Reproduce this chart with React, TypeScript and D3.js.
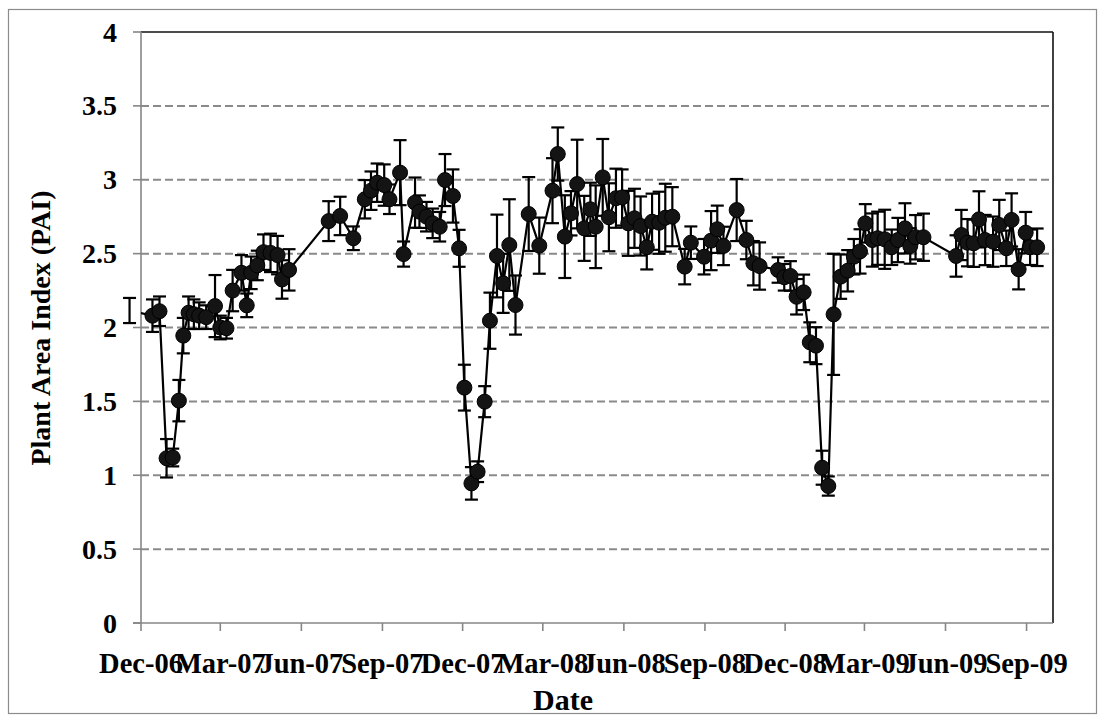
import React from "react";
import * as d3 from "d3";

// Sampling dates of the Plant Area Index series
const sampleDates = [
  "2006-11-18", "2006-12-14", "2006-12-22", "2006-12-30", "2007-01-06", "2007-01-13",
  "2007-01-18", "2007-01-24", "2007-01-30", "2007-02-05", "2007-02-13", "2007-02-23",
  "2007-03-01", "2007-03-08", "2007-03-15", "2007-03-25", "2007-03-31", "2007-04-05",
  "2007-04-12", "2007-04-19", "2007-04-27", "2007-05-05", "2007-05-10", "2007-05-18",
  "2007-07-02", "2007-07-15", "2007-07-30", "2007-08-12", "2007-08-19", "2007-08-26",
  "2007-09-03", "2007-09-09", "2007-09-21", "2007-09-25", "2007-10-08", "2007-10-13",
  "2007-10-21", "2007-10-28", "2007-11-05", "2007-11-11", "2007-11-20", "2007-11-27",
  "2007-12-03", "2007-12-11", "2007-12-18", "2007-12-26", "2008-01-01", "2008-01-09",
  "2008-01-16", "2008-01-23", "2008-01-30", "2008-02-14", "2008-02-26", "2008-03-12",
  "2008-03-18", "2008-03-26", "2008-04-02", "2008-04-09", "2008-04-17", "2008-04-24",
  "2008-04-30", "2008-05-08", "2008-05-15", "2008-05-23", "2008-05-30", "2008-06-06",
  "2008-06-13", "2008-06-20", "2008-06-27", "2008-07-03", "2008-07-11", "2008-07-18",
  "2008-07-26", "2008-08-09", "2008-08-16", "2008-08-31", "2008-09-08", "2008-09-15",
  "2008-09-22", "2008-10-07", "2008-10-18", "2008-10-26", "2008-11-02", "2008-11-23",
  "2008-11-30", "2008-12-07", "2008-12-14", "2008-12-22", "2008-12-29", "2009-01-05",
  "2009-01-12", "2009-01-19", "2009-01-25", "2009-02-02", "2009-02-10", "2009-02-17",
  "2009-02-24", "2009-03-02", "2009-03-10", "2009-03-16", "2009-03-24", "2009-04-01",
  "2009-04-08", "2009-04-16", "2009-04-22", "2009-04-28", "2009-05-07", "2009-06-13",
  "2009-06-19", "2009-06-26", "2009-07-03", "2009-07-09", "2009-07-16", "2009-07-25",
  "2009-08-01", "2009-08-09", "2009-08-15", "2009-08-23", "2009-08-31", "2009-09-05",
  "2009-09-13",
];

// Mean PAI per date
const paiValues = [
  2.115, 2.08, 2.11, 1.115, 1.12, 1.505,
  1.945, 2.1, 2.09, 2.08, 2.07, 2.145,
  2.0, 1.995, 2.25, 2.37, 2.15, 2.37,
  2.42, 2.51, 2.505, 2.49, 2.325, 2.39,
  2.72, 2.755, 2.604, 2.868, 2.926, 2.98,
  2.964, 2.868, 3.048, 2.497, 2.845, 2.784,
  2.75, 2.705, 2.682, 2.998, 2.89, 2.536,
  1.593, 0.945, 1.024, 1.498, 2.046, 2.484,
  2.299, 2.558, 2.152, 2.768, 2.554, 2.926,
  3.174, 2.615, 2.773, 2.971, 2.671, 2.8,
  2.682, 3.016, 2.746, 2.875, 2.88, 2.705,
  2.739, 2.687, 2.543, 2.716, 2.709, 2.743,
  2.75, 2.412, 2.574, 2.479, 2.588, 2.665,
  2.552, 2.795, 2.592, 2.435, 2.416, 2.389,
  2.34, 2.349, 2.208, 2.238, 1.9, 1.877,
  1.051, 0.927, 2.089, 2.344, 2.384, 2.479,
  2.515, 2.705, 2.592, 2.604, 2.597, 2.543,
  2.592, 2.671, 2.552, 2.611, 2.611, 2.484,
  2.626, 2.574, 2.57, 2.732, 2.592, 2.581,
  2.694, 2.536, 2.728, 2.394, 2.642, 2.543,
  2.543,
];

// Standard error of PAI per date
const paiErrors = [
  0.085, 0.11, 0.1, 0.13, 0.06, 0.14,
  0.12, 0.11, 0.1, 0.09, 0.08, 0.21,
  0.08, 0.07, 0.14, 0.12, 0.08, 0.11,
  0.1, 0.12, 0.13, 0.13, 0.13, 0.14,
  0.135, 0.13, 0.08, 0.13, 0.13, 0.13,
  0.14, 0.1, 0.22, 0.085, 0.17, 0.11,
  0.1, 0.1, 0.1, 0.176, 0.18, 0.125,
  0.155, 0.11, 0.07, 0.105, 0.19, 0.28,
  0.2, 0.31, 0.2, 0.25, 0.19, 0.22,
  0.18, 0.28, 0.15, 0.3, 0.22, 0.18,
  0.28, 0.26, 0.23, 0.2, 0.19, 0.22,
  0.2, 0.2, 0.15, 0.19, 0.21, 0.23,
  0.2, 0.12, 0.11, 0.12, 0.2, 0.16,
  0.13, 0.21, 0.13, 0.15, 0.16, 0.086,
  0.09, 0.1, 0.12, 0.12, 0.135, 0.125,
  0.115, 0.065, 0.41, 0.15, 0.14, 0.12,
  0.15, 0.13, 0.18, 0.18, 0.2, 0.12,
  0.15, 0.17, 0.12, 0.15, 0.16, 0.14,
  0.17, 0.16, 0.16, 0.19, 0.17, 0.17,
  0.17, 0.12, 0.18, 0.136, 0.14, 0.12,
  0.127,
];

const yTickValues = [0, 0.5, 1, 1.5, 2, 2.5, 3, 3.5, 4];
const xDomain = ["2006-12-01", "2009-10-01"];
const yTitle = "Plant Area Index (PAI)";
const xTitle = "Date";

const W = 1105;
const H = 722;
const plot = { left: 141, right: 1053, top: 32, bottom: 623 };
const FONT = "'Liberation Serif', 'Times New Roman', serif";

export default function App() {
  const parse = d3.timeParse("%Y-%m-%d");
  const fmt = d3.timeFormat("%b-%y");

  const x = d3
    .scaleTime()
    .domain(xDomain.map((s) => parse(s) as Date))
    .range([plot.left, plot.right]);
  const y = d3.scaleLinear().domain([0, 4]).range([plot.bottom, plot.top]);

  const points = sampleDates.map((s, i) => ({
    date: parse(s) as Date,
    v: paiValues[i],
    e: paiErrors[i],
  }));

  // quarterly ticks: Dec, Mar, Jun, Sep
  const xTicks = d3.timeMonth.range(x.domain()[0], new Date(2009, 8, 2), 3);

  const line = d3
    .line<{ date: Date; v: number }>()
    .x((d) => x(d.date))
    .y((d) => y(d.v));

  const capHalf = 6.5;

  return (
    <svg
      width={W}
      height={H}
      style={{ position: "absolute", left: 0, top: 0, background: "#fff" }}
      fontFamily={FONT}
    >
      <defs>
        <clipPath id="plotClip">
          <rect
            x={plot.left}
            y={plot.top - 10}
            width={plot.right - plot.left}
            height={plot.bottom - plot.top + 10}
          />
        </clipPath>
      </defs>
      <rect x={0} y={0} width={W} height={H} fill="#fff" />
      {/* chart frame */}
      <rect x={8.5} y={9.5} width={1088} height={704} fill="none" stroke="#8c8c8c" strokeWidth={1.2} />

      {/* horizontal gridlines */}
      {yTickValues
        .filter((t) => t > 0 && t < 4)
        .map((t) => (
          <line
            key={"g" + t}
            x1={plot.left}
            x2={plot.right}
            y1={y(t)}
            y2={y(t)}
            stroke="#8a8a8a"
            strokeWidth={2}
            strokeDasharray="8 4"
          />
        ))}

      {/* plot border: top and right */}
      <line x1={plot.left} x2={plot.right} y1={y(4)} y2={y(4)} stroke="#111" strokeWidth={1.6} />
      <line x1={plot.right} x2={plot.right} y1={plot.top} y2={plot.bottom} stroke="#111" strokeWidth={1.6} />

      {/* axes */}
      <line x1={plot.left} x2={plot.left} y1={plot.top} y2={plot.bottom} stroke="#868686" strokeWidth={1.6} />
      <line x1={plot.left - 8} x2={plot.right} y1={plot.bottom} y2={plot.bottom} stroke="#868686" strokeWidth={1.6} />

      {yTickValues.map((t) => (
        <g key={"yt" + t}>
          <line x1={plot.left - 8} x2={plot.left} y1={y(t)} y2={y(t)} stroke="#868686" strokeWidth={1.6} />
          <text
            x={117}
            y={y(t) + 9.5}
            textAnchor="end"
            fontSize={28}
            fontWeight="bold"
            fill="#000"
          >
            {String(t)}
          </text>
        </g>
      ))}

      {xTicks.map((d) => (
        <g key={"xt" + d.getTime()}>
          <line x1={x(d)} x2={x(d)} y1={plot.bottom} y2={plot.bottom + 8} stroke="#868686" strokeWidth={1.6} />
          <text
            x={x(d)}
            y={673}
            textAnchor="middle"
            fontSize={28.5}
            fontWeight="bold"
            fill="#000"
          >
            {fmt(d)}
          </text>
        </g>
      ))}

      {/* axis titles */}
      <text x={563} y={710} textAnchor="middle" fontSize={30} fontWeight="bold" fill="#000">
        {xTitle}
      </text>
      <text
        transform={`translate(50, 328) rotate(-90)`}
        textAnchor="middle"
        fontSize={28}
        fontWeight="bold"
        fill="#000"
      >
        {yTitle}
      </text>

      {/* error bars */}
      <g stroke="#000" strokeWidth={2.2}>
        {points.map((p, i) => {
          const cx = x(p.date);
          const y1 = y(p.v + p.e);
          const y2 = y(p.v - p.e);
          return (
            <g key={"e" + i}>
              <line x1={cx} x2={cx} y1={y1} y2={y2} />
              <line x1={cx - capHalf} x2={cx + capHalf} y1={y1} y2={y1} />
              <line x1={cx - capHalf} x2={cx + capHalf} y1={y2} y2={y2} />
            </g>
          );
        })}
      </g>

      {/* series line and markers */}
      <g clipPath="url(#plotClip)">
        <path d={line(points) ?? ""} fill="none" stroke="#000" strokeWidth={2.2} />
        {points.map((p, i) => (
          <circle
            key={"m" + i}
            cx={x(p.date)}
            cy={y(p.v)}
            r={7.5}
            fill="#141414"
            stroke="#000"
            strokeWidth={1}
          />
        ))}
      </g>
    </svg>
  );
}
